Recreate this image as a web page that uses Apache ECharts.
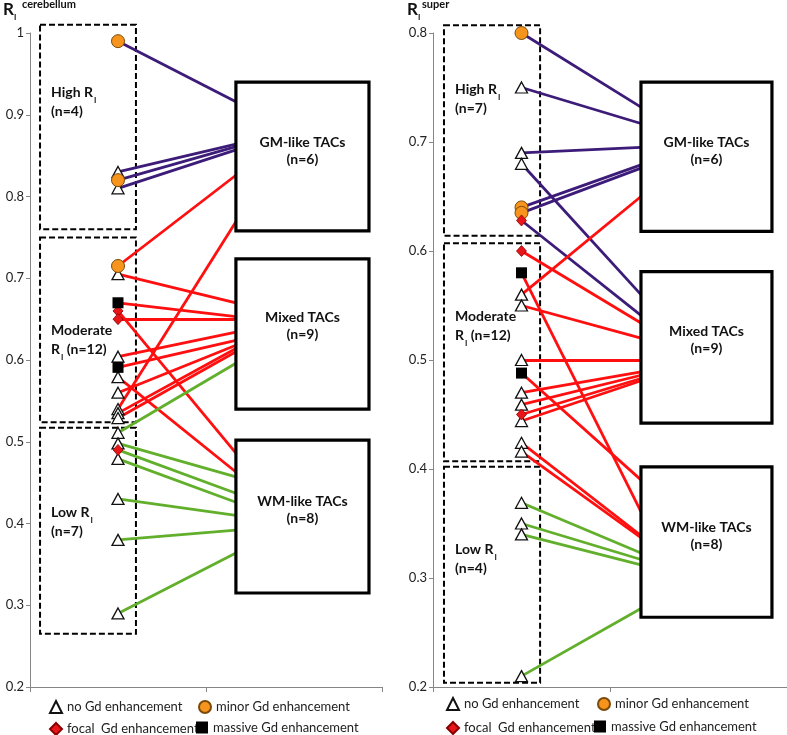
<!DOCTYPE html>
<html><head><meta charset="utf-8">
<script src="https://cdn.jsdelivr.net/npm/echarts@6/dist/echarts.min.js"></script>
<style>html,body{margin:0;padding:0;background:#fff}#c{width:787px;height:735px}</style>
</head><body><div id="c"></div>
<script>
// ===== Left panel: R_I cerebellum =====
const leftValues  = [0.99,0.83,0.82,0.81, 0.715,0.705,0.67,0.66,0.65,0.604,0.591,0.579,0.56,0.54,0.535,0.529, 0.511,0.498,0.49,0.479,0.43,0.38,0.29];
const leftMarkers = ['minor','none','minor','none', 'minor','none','massive','focal','focal','none','massive','none','none','none','none','none', 'none','none','focal','none','none','none','none'];
const leftGroups  = ['High','High','High','High', 'Moderate','Moderate','Moderate','Moderate','Moderate','Moderate','Moderate','Moderate','Moderate','Moderate','Moderate','Moderate', 'Low','Low','Low','Low','Low','Low','Low'];
const leftEnds    = [0.916,0.864,0.861,0.857, 0.826,0.670,0.653,0.486,0.650,0.634,0.624,0.463,0.618,0.769,0.614,0.610, 0.596,0.457,0.437,0.426,0.410,0.392,0.364];

// ===== Right panel: R_I super =====
const rightValues  = [0.80,0.75,0.69,0.68,0.64,0.635,0.628, 0.60,0.58,0.56,0.55,0.50,0.488,0.47,0.459,0.45,0.444,0.424,0.416, 0.369,0.35,0.34,0.21];
const rightMarkers = ['minor','none','none','none','minor','minor','focal', 'focal','massive','none','none','none','massive','none','none','focal','none','none','none', 'none','none','none','none'];
const rightGroups  = ['High','High','High','High','High','High','High', 'Moderate','Moderate','Moderate','Moderate','Moderate','Moderate','Moderate','Moderate','Moderate','Moderate','Moderate','Moderate', 'Low','Low','Low','Low'];
const rightEnds    = [0.732,0.717,0.695,0.560,0.679,0.676,0.541, 0.534,0.361,0.650,0.520,0.500,0.390,0.489,0.486,0.483,0.481,0.339,0.337, 0.323,0.317,0.312,0.272];

// ===== TAC boxes =====
const tacNames = ['GM-like TACs','Mixed TACs','WM-like TACs'];
const tacN = [6, 9, 8];
const leftTacX = [1.17, 1.926];
const leftTacTop = [0.940, 0.7236, 0.502];
const leftTacBottom = [0.758, 0.540, 0.315];
const leftTacLabelY = [0.856, 0.642, 0.417];
const rightTacX = [1.175, 1.915];
const rightTacTop = [0.755, 0.581, 0.402];
const rightTacBottom = [0.618, 0.442, 0.264];
const rightTacLabelY = [0.692, 0.518, 0.339];

// ===== R_I group (dashed) boxes =====
const leftGroupLabels = ['{b|High R}{s|I}\n{b|(n=4)}', '{b|Moderate}\n{b|R}{s|I}{b| (n=12)}', '{b|Low R}{s|I}\n{b|(n=7)}'];
const leftGroupX = [0.057, 0.602];
const leftGroupTop = [1.010, 0.750, 0.517];
const leftGroupBottom = [0.760, 0.524, 0.265];
const leftGroupLabelY = [0.913, 0.622, 0.399];
const rightGroupLabels = ['{b|High R}{s|I}\n{b|(n=7)}', '{b|Moderate}\n{b|R}{s|I}{b| (n=12)}', '{b|Low R}{s|I}\n{b|(n=4)}'];
const rightGroupX = [0.062, 0.605];
const rightGroupTop = [0.807, 0.607, 0.402];
const rightGroupBottom = [0.614, 0.407, 0.204];
const rightGroupLabelY = [0.737, 0.529, 0.315];

const markerPos = 0.5;
const FONT = 'Lato, "Open Sans", sans-serif';
const groupColor = {High:'#3C1C78', Moderate:'#FF0F0F', Low:'#62AF2C'};
const markerNames = {none:'no Gd enhancement', minor:'minor Gd enhancement', focal:'focal  Gd enhancement', massive:'massive Gd enhancement'};
const markerStyle = {
  none:   {symbol:'triangle', symbolSize:[12,11], itemStyle:{color:'#fff', borderColor:'#111', borderWidth:1.3, opacity:1}},
  minor:  {symbol:'circle', symbolSize:13, itemStyle:{color:'#F7941D', borderColor:'#7a4a08', borderWidth:1, opacity:1}},
  focal:  {symbol:'diamond', symbolSize:[10,11], itemStyle:{color:'#E8161B', borderColor:'#8a0000', borderWidth:0.8, opacity:1}},
  massive:{symbol:'rect', symbolSize:11, itemStyle:{color:'#000', borderColor:'#000', borderWidth:0, opacity:1}}
};

function linesSeries(idx, values, groups, ends, endX) {
  return {
    type:'lines', coordinateSystem:'cartesian2d', xAxisIndex:idx, yAxisIndex:idx, silent:true, z:2,
    lineStyle:{width:2.8, opacity:1},
    data: values.map((v,i)=>({coords:[[markerPos, v],[endX, ends[i]]], lineStyle:{color:groupColor[groups[i]]}}))
  };
}
function scatterSeries(idx, values, markers) {
  return Object.keys(markerNames).map(k=>Object.assign({
    type:'scatter', name:markerNames[k], xAxisIndex:idx, yAxisIndex:idx, z:4, silent:true,
    data: values.filter((v,i)=>markers[i]===k).map(v=>[markerPos, v])
  }, markerStyle[k]));
}
function tacSeries(idx, xs, tops, bottoms, labelYs) {
  return {
    type:'custom', xAxisIndex:idx, yAxisIndex:idx, clip:false, silent:true, z:3,
    data: tops.map((t,i)=>[xs[0], t, xs[1], bottoms[i], labelYs[i]]),
    renderItem:(params, api)=>{
      const i = params.dataIndex;
      const p0 = api.coord([api.value(0), api.value(1)]);
      const p1 = api.coord([api.value(2), api.value(3)]);
      const ly = api.coord([api.value(0), api.value(4)])[1];
      return {type:'group', children:[
        {type:'rect', shape:{x:p0[0], y:p0[1], width:p1[0]-p0[0], height:p1[1]-p0[1]},
         style:{fill:'#fff', stroke:'#000', lineWidth:3.2}},
        {type:'text', x:(p0[0]+p1[0])/2, y:ly,
         style:{text:tacNames[i]+'\n(n='+tacN[i]+')', font:'bold 14px '+FONT, fill:'#111',
                align:'center', verticalAlign:'middle', lineHeight:17}}
      ]};
    }
  };
}
function groupSeries(idx, xs, tops, bottoms, labelYs, labels) {
  return {
    type:'custom', xAxisIndex:idx, yAxisIndex:idx, clip:false, silent:true, z:1,
    data: tops.map((t,i)=>[xs[0], t, xs[1], bottoms[i], labelYs[i]]),
    renderItem:(params, api)=>{
      const i = params.dataIndex;
      const p0 = api.coord([api.value(0), api.value(1)]);
      const p1 = api.coord([api.value(2), api.value(3)]);
      const ly = api.coord([api.value(0), api.value(4)])[1];
      return {type:'group', children:[
        {type:'rect', shape:{x:p0[0], y:p0[1], width:p1[0]-p0[0], height:p1[1]-p0[1]},
         style:{fill:'none', stroke:'#000', lineWidth:2, lineDash:[6,3]}},
        {type:'text', x:p0[0]+11, y:ly,
         style:{text:labels[i], align:'left', verticalAlign:'middle', fill:'#111',
           rich:{b:{font:'bold 14px '+FONT, fill:'#111', lineHeight:19, verticalAlign:'top'},
                 s:{font:'bold 8px '+FONT, fill:'#111', lineHeight:9, verticalAlign:'bottom', padding:[0,0,0,1]}}}}
      ]};
    }
  };
}
function legendAt(name, left, top) {
  return {data:[name], left:left, top:top, itemWidth:12, itemHeight:12, itemGap:5, padding:0,
          selectedMode:false, textStyle:{fontSize:13, color:'#222', fontFamily:FONT}};
}
const axisCommon = {
  axisLine:{show:true, lineStyle:{color:'#868686', width:1}},
  axisTick:{show:true, length:4, lineStyle:{color:'#868686'}},
  splitLine:{show:false}
};
const option = {
  animation:false,
  backgroundColor:'#fff',
  grid:[{left:30, top:33, width:352, height:654}, {left:433, top:33, width:354, height:654}],
  xAxis:[0,1].map(g=>Object.assign({}, axisCommon, {type:'value', gridIndex:g, min:0, max:2, interval:1,
          axisTick:{show:true, length:5, lineStyle:{color:'#868686'}}, axisLabel:{show:false}})),
  yAxis:[
    Object.assign({}, axisCommon, {type:'value', gridIndex:0, min:0.2, max:1, interval:0.1,
      axisLabel:{fontSize:13, color:'#222', fontFamily:FONT, margin:6, formatter:v=>Math.abs(v-1)<1e-9?'1':v.toFixed(1)}}),
    Object.assign({}, axisCommon, {type:'value', gridIndex:1, min:0.2, max:0.8, interval:0.1,
      axisLabel:{fontSize:13, color:'#222', fontFamily:FONT, margin:6, formatter:v=>v.toFixed(1)}})
  ],
  legend:[
    legendAt(markerNames.none, 49, 700), legendAt(markerNames.minor, 198, 700),
    legendAt(markerNames.focal, 49, 722), legendAt(markerNames.massive, 196, 721),
    legendAt(markerNames.none, 446, 697), legendAt(markerNames.minor, 597, 697),
    legendAt(markerNames.focal, 446, 721), legendAt(markerNames.massive, 594, 720)
  ],
  graphic:[
    {type:'text', left:3, top:1, style:{text:'R', font:'bold 17px '+FONT, fill:'#111'}},
    {type:'text', left:14, top:13, style:{text:'I', font:'bold 8px '+FONT, fill:'#111'}},
    {type:'text', left:22, top:-1, style:{text:'cerebellum', font:'bold 11px '+FONT, fill:'#111'}},
    {type:'text', left:407, top:1, style:{text:'R', font:'bold 17px '+FONT, fill:'#111'}},
    {type:'text', left:418, top:13, style:{text:'I', font:'bold 8px '+FONT, fill:'#111'}},
    {type:'text', left:422, top:-1, style:{text:'super', font:'bold 11px '+FONT, fill:'#111'}}
  ],
  series:[
    groupSeries(0, leftGroupX, leftGroupTop, leftGroupBottom, leftGroupLabelY, leftGroupLabels),
    groupSeries(1, rightGroupX, rightGroupTop, rightGroupBottom, rightGroupLabelY, rightGroupLabels),
    linesSeries(0, leftValues, leftGroups, leftEnds, leftTacX[0]),
    linesSeries(1, rightValues, rightGroups, rightEnds, rightTacX[0]),
    tacSeries(0, leftTacX, leftTacTop, leftTacBottom, leftTacLabelY),
    tacSeries(1, rightTacX, rightTacTop, rightTacBottom, rightTacLabelY),
    ...scatterSeries(0, leftValues, leftMarkers),
    ...scatterSeries(1, rightValues, rightMarkers)
  ]
};
const chart = echarts.init(document.getElementById('c'), null, {renderer:'canvas'});
chart.setOption(option);
</script></body></html>
